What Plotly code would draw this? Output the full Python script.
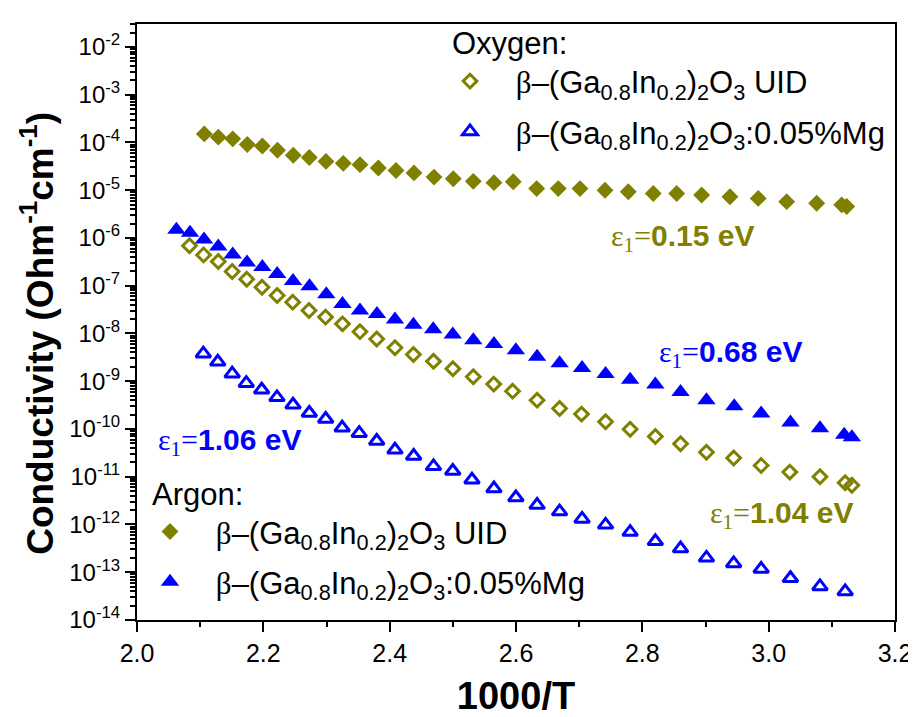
import plotly.graph_objects as go

OLIVE = "#808000"
BLUE = "#0000FF"

# ---------------- data ----------------
# Argon, beta-(Ga0.8In0.2)2O3 UID (filled olive diamonds)
ar_uid_x = [2.1065, 2.1287, 2.1515, 2.1746, 2.1984, 2.2224, 2.2474, 2.2728, 2.2992, 2.3266,
            2.3530, 2.3820, 2.4100, 2.4385, 2.4702, 2.5007, 2.5324, 2.5651, 2.5957, 2.6327,
            2.6669, 2.7013, 2.7409, 2.7778, 2.8173, 2.8544, 2.8939, 2.9387, 2.9835, 3.0285,
            3.0760, 3.1156, 3.1235]
ar_uid_y = [1.51e-4, 1.29e-4, 1.19e-4, 9.08e-5, 8.41e-5, 6.84e-5, 5.40e-5, 4.84e-5, 4.01e-5, 3.65e-5,
            3.43e-5, 2.92e-5, 2.58e-5, 2.30e-5, 1.88e-5, 1.73e-5, 1.53e-5, 1.44e-5, 1.50e-5, 1.08e-5,
            1.08e-5, 1.08e-5, 1.00e-5, 9.25e-6, 8.53e-6, 8.53e-6, 7.91e-6, 7.30e-6, 6.73e-6, 5.75e-6,
            5.32e-6, 4.93e-6, 4.55e-6]

# Oxygen, beta-(Ga0.8In0.2)2O3 UID (open olive diamonds)
ox_uid_x = [2.0831, 2.1054, 2.1287, 2.1507, 2.1737, 2.1979, 2.2219, 2.2465, 2.2723, 2.2984,
            2.3253, 2.3530, 2.3795, 2.4084, 2.4376, 2.4694, 2.5001, 2.5324, 2.5647, 2.5946,
            2.6334, 2.6690, 2.7037, 2.7418, 2.7807, 2.8206, 2.8605, 2.9015, 2.9446, 2.9881,
            3.0334, 3.0812, 3.1211, 3.1317]
ox_uid_y = [6.85e-7, 4.42e-7, 3.21e-7, 1.98e-7, 1.37e-7, 9.31e-8, 6.22e-8, 4.52e-8, 3.02e-8, 2.20e-8,
            1.59e-8, 1.09e-8, 7.66e-9, 5.01e-9, 3.63e-9, 2.61e-9, 1.83e-9, 1.24e-9, 8.71e-10, 6.19e-10,
            4.01e-10, 2.69e-10, 2.05e-10, 1.42e-10, 9.89e-11, 6.97e-11, 4.91e-11, 3.25e-11, 2.47e-11, 1.72e-11,
            1.25e-11, 1.00e-11, 7.50e-12, 6.64e-12]

# Argon, beta-(Ga0.8In0.2)2O3:0.05%Mg (filled blue triangles)
ar_mg_x = [2.0624, 2.0839, 2.1061, 2.1287, 2.1515, 2.1741, 2.1984, 2.2219, 2.2470, 2.2731,
           2.2997, 2.3253, 2.3530, 2.3799, 2.4084, 2.4376, 2.4689, 2.4999, 2.5324, 2.5651,
           2.5998, 2.6334, 2.6690, 2.7046, 2.7418, 2.7807, 2.8206, 2.8605, 2.9015, 2.9455,
           2.9881, 3.0345, 3.0812, 3.1195, 3.1317]
ar_mg_y = [1.49e-6, 1.29e-6, 9.27e-7, 6.64e-7, 4.52e-7, 3.07e-7, 2.45e-7, 1.75e-7, 1.25e-7, 9.72e-8,
           6.65e-8, 4.15e-8, 3.02e-8, 2.55e-8, 1.97e-8, 1.53e-8, 1.22e-8, 9.48e-9, 7.24e-9, 6.00e-9,
           4.47e-9, 3.26e-9, 2.37e-9, 1.90e-9, 1.42e-9, 1.07e-9, 8.57e-10, 5.96e-10, 4.01e-10, 3.00e-10,
           2.11e-10, 1.36e-10, 1.04e-10, 7.55e-11, 6.73e-11]

# Oxygen, beta-(Ga0.8In0.2)2O3:0.05%Mg (open blue triangles)
ox_mg_x = [2.1050, 2.1279, 2.1507, 2.1730, 2.1974, 2.2216, 2.2470, 2.2728, 2.2987, 2.3248,
           2.3518, 2.3795, 2.4084, 2.4380, 2.4694, 2.4999, 2.5303, 2.5651, 2.5998, 2.6334,
           2.6690, 2.7046, 2.7418, 2.7807, 2.8206, 2.8605, 2.9015, 2.9446, 2.9881, 3.0345,
           3.0812, 3.1211]
ox_mg_y = [3.77e-9, 2.55e-9, 1.44e-9, 9.12e-10, 6.64e-10, 4.59e-10, 3.22e-10, 2.16e-10, 1.62e-10, 1.06e-10,
           8.17e-11, 5.60e-11, 3.66e-11, 2.72e-11, 1.65e-11, 1.32e-11, 8.65e-12, 5.65e-12, 3.67e-12, 2.55e-12,
           1.86e-12, 1.31e-12, 9.82e-13, 6.92e-13, 4.44e-13, 3.13e-13, 2.00e-13, 1.53e-13, 1.17e-13, 7.48e-14,
           5.04e-14, 3.97e-14]

y_exponents = list(range(-2, -15, -1))
y_tickvals = [10.0 ** e for e in y_exponents]
y_ticktext = ["10<sup>%d</sup>" % e for e in y_exponents]
y_minor = [k * 10.0 ** e for e in range(-14, -1) for k in range(2, 10)]

BETA = "<span style='font-family:Liberation Serif'>β</span>"
SP = "\u00a0\u00a0\u00a0"
name_uid = SP + BETA + "–(Ga<sub>0.8</sub>In<sub>0.2</sub>)<sub>2</sub>O<sub>3</sub> UID"
name_mg = SP + BETA + "–(Ga<sub>0.8</sub>In<sub>0.2</sub>)<sub>2</sub>O<sub>3</sub>:0.05%Mg"

fig = go.Figure()
fig.add_trace(go.Scatter(x=ox_uid_x, y=ox_uid_y, mode="markers", name=name_uid, legend="legend",
                         legendgroup="o1",
                         marker=dict(symbol="diamond-open", size=10.5, color=OLIVE,
                                     line=dict(width=3, color=OLIVE))))
fig.add_trace(go.Scatter(x=ox_mg_x, y=ox_mg_y, mode="markers", name=name_mg, legend="legend",
                         legendgroup="o2",
                         marker=dict(symbol="triangle-up-open", size=13, color=BLUE,
                                     line=dict(width=3, color=BLUE))))
fig.add_trace(go.Scatter(x=ar_uid_x, y=ar_uid_y, mode="markers", name=name_uid, legend="legend2",
                         legendgroup="a1",
                         marker=dict(symbol="diamond", size=13, color=OLIVE, line=dict(width=0))))
fig.add_trace(go.Scatter(x=ar_mg_x, y=ar_mg_y, mode="markers", name=name_mg, legend="legend2",
                         legendgroup="a2",
                         marker=dict(symbol="triangle-up", size=16, color=BLUE, line=dict(width=0))))

# The page body has an 8px margin, so the figure is made 8px smaller and margins shifted.
OFF = 8
W, H = 916 - OFF, 717 - OFF
PLOT_L, PLOT_R, PLOT_T, PLOT_B = 137, 895, 14, 620   # wanted plot box on the page
L, T = PLOT_L - OFF, PLOT_T - OFF
R, B = (916 - PLOT_R), (717 - PLOT_B)
PW, PH = PLOT_R - PLOT_L, PLOT_B - PLOT_T


def px(xp):
    return (xp - PLOT_L) / PW


def py(yp):
    return 1 - (yp - PLOT_T) / PH


def eps_label(val):
    return ("<span style='font-family:Liberation Serif;font-weight:normal'>ε<sub>1</sub>=</span>"
            "<b>%s eV</b>" % val)


annots = [
    ("0.15", OLIVE, 682, 232),
    ("0.68", BLUE, 730, 350),
    ("1.06", BLUE, 229, 439),
    ("1.04", OLIVE, 781, 513),
]
for val, col, xp, yp in annots:
    fig.add_annotation(x=px(xp), y=py(yp), xref="paper", yref="paper", showarrow=False,
                       xanchor="center", yanchor="middle", text=eps_label(val),
                       font=dict(family="Liberation Sans", size=30, color=col))

# y-axis title (placed as rotated text beside the axis)
fig.add_annotation(x=px(38), y=py(329), xref="paper", yref="paper", showarrow=False,
                   xanchor="center", yanchor="middle", textangle=-90,
                   text="<b>Conductivity (Ohm<sup>-1</sup>cm<sup>-1</sup>)</b>",
                   font=dict(family="Liberation Sans", size=37, color="black"))

axis_common = dict(showline=True, linecolor="black", linewidth=2, mirror=True,
                   ticks="outside", tickcolor="black", tickwidth=2, ticklen=10,
                   showgrid=False, zeroline=False, automargin=False)

LEG_FONT = dict(size=31, family="Liberation Sans", color="black")

fig.update_layout(
    width=W, height=H,
    margin=dict(l=L, r=R, t=T, b=B),
    paper_bgcolor="white", plot_bgcolor="white",
    font=dict(family="Liberation Sans", color="black"),
    xaxis=dict(range=[2.0, 3.2], dtick=0.2, tick0=2.0, tickformat=".1f",
               tickfont=dict(size=25, family="Liberation Sans"),
               minor=dict(dtick=0.1, ticks="outside", ticklen=5, tickwidth=2, tickcolor="black"),
               title=dict(text="<b>1000/T</b>", font=dict(size=38, family="Liberation Sans"), standoff=16),
               **axis_common),
    yaxis=dict(type="log", range=[-14, -1.52], tickvals=y_tickvals, ticktext=y_ticktext,
               tickfont=dict(size=24, family="Liberation Sans"),
               minor=dict(tickvals=y_minor, ticks="outside", ticklen=5, tickwidth=1.5, tickcolor="black"),
               **axis_common),
    legend=dict(x=px(450), y=py(4), xanchor="left", yanchor="top",
                bgcolor="rgba(0,0,0,0)", borderwidth=0, font=LEG_FONT,
                title=dict(text="Oxygen:", font=LEG_FONT),
                tracegroupgap=7),
    legend2=dict(x=px(150), y=py(462), xanchor="left", yanchor="top",
                 bgcolor="rgba(0,0,0,0)", borderwidth=0, font=LEG_FONT,
                 title=dict(text="Argon:", font=LEG_FONT),
                 tracegroupgap=7),
    showlegend=True,
)

fig.write_html("out.html")
